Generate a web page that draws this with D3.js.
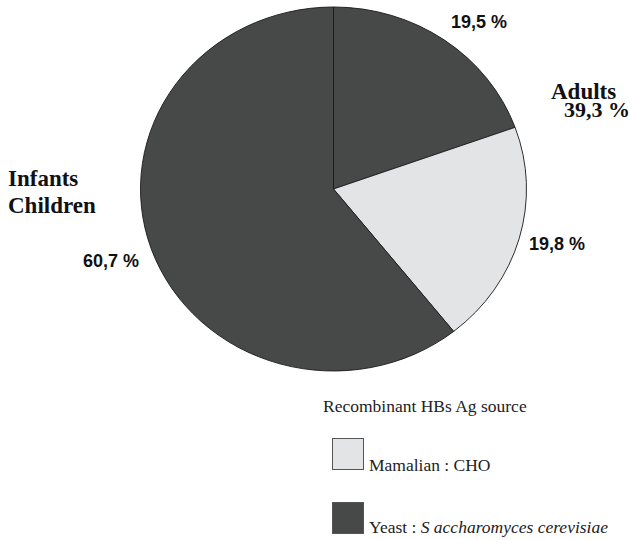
<!DOCTYPE html>
<html>
<head>
<meta charset="utf-8">
<script src="https://cdn.jsdelivr.net/npm/d3@7"></script>
<style>
  html, body { margin: 0; padding: 0; background: #fff; }
  svg { display: block; }
</style>
</head>
<body>
<svg id="chart" width="630" height="540"></svg>
<script>
// Share of recombinant HBs Ag vaccine source by age group
const sliceGroups = ["Adults", "Adults", "Infants Children"];
const sliceSources = ["Yeast", "Mamalian", "Yeast"];
const sliceValues = [19.5, 19.8, 60.7];
const sliceLabels = ["19,5 %", "19,8 %", "60,7 %"];

const legendKeys = ["Mamalian", "Yeast"];
const legendTitle = "Recombinant HBs Ag source";

const groupTotals = ["39,3 %"];

const svg = d3.select("#chart");

const color = d3.scaleOrdinal()
  .domain(legendKeys)
  .range(["#e3e4e5", "#474948"]);

// Pie is drawn slightly flattened (elliptical)
const cx = 333.5, cy = 189, rx = 193, ry = 182;

const pie = d3.pie().sort(null).value(d => d.value);
const arc = d3.arc().innerRadius(0).outerRadius(rx);

const slices = sliceValues.map((v, i) => ({
  value: v, source: sliceSources[i], group: sliceGroups[i], label: sliceLabels[i]
}));

const pieG = svg.append("g")
  .attr("transform", `translate(${cx},${cy}) scale(1,${ry / rx})`);

pieG.selectAll("path")
  .data(pie(slices))
  .join("path")
  .attr("d", arc)
  .attr("fill", d => color(d.data.source))
  .attr("stroke", "#1a1a1a")
  .attr("stroke-width", 0.9)
  .attr("vector-effect", "non-scaling-stroke");

// Percentage labels on slices
const valueLabelPos = [[451, 28], [529, 250], [83, 267]];
svg.selectAll("text.pct")
  .data(slices)
  .join("text")
  .attr("class", "pct")
  .attr("x", (d, i) => valueLabelPos[i][0])
  .attr("y", (d, i) => valueLabelPos[i][1])
  .attr("font-family", "'Liberation Sans', Arial, sans-serif")
  .attr("font-weight", "bold")
  .attr("font-size", 18)
  .attr("fill", "#111")
  .text(d => d.label);

// Age group headings
const serif = "'Liberation Serif', 'Times New Roman', serif";
svg.append("text")
  .attr("x", 551).attr("y", 99)
  .attr("font-family", serif).attr("font-weight", "bold").attr("font-size", 23)
  .attr("fill", "#111")
  .text(sliceGroups[0]);
svg.append("text")
  .attr("x", 564).attr("y", 117)
  .attr("font-family", serif).attr("font-weight", "bold").attr("font-size", 22)
  .attr("fill", "#111")
  .text(groupTotals[0]);

const infants = svg.append("text")
  .attr("font-family", serif).attr("font-weight", "bold").attr("font-size", 23)
  .attr("fill", "#111");
sliceGroups[2].split(" ").forEach((w, i) => {
  infants.append("tspan").attr("x", 8).attr("y", 186 + i * 27).text(w);
});

// Legend
svg.append("text")
  .attr("x", 323).attr("y", 412)
  .attr("font-family", serif).attr("font-size", 17.5)
  .attr("fill", "#222")
  .text(legendTitle);

const legendRows = [
  { key: "Mamalian", y: 438 },
  { key: "Yeast", y: 502 }
];

svg.selectAll("rect.key")
  .data(legendRows)
  .join("rect")
  .attr("class", "key")
  .attr("x", 332.5).attr("y", d => d.y + 0.5)
  .attr("width", 31).attr("height", 31)
  .attr("fill", d => color(d.key))
  .attr("stroke", "#555")
  .attr("stroke-width", 1);

const t1 = svg.append("text")
  .attr("x", 369).attr("y", 471)
  .attr("font-family", serif).attr("font-size", 17.5).attr("fill", "#222")
  .text("Mamalian : CHO");

const t2 = svg.append("text")
  .attr("x", 369).attr("y", 533)
  .attr("font-family", serif).attr("font-size", 17.5).attr("fill", "#222");
t2.append("tspan").text("Yeast : ");
t2.append("tspan").attr("font-style", "italic").text("S accharomyces cerevisiae");
</script>
</body>
</html>
